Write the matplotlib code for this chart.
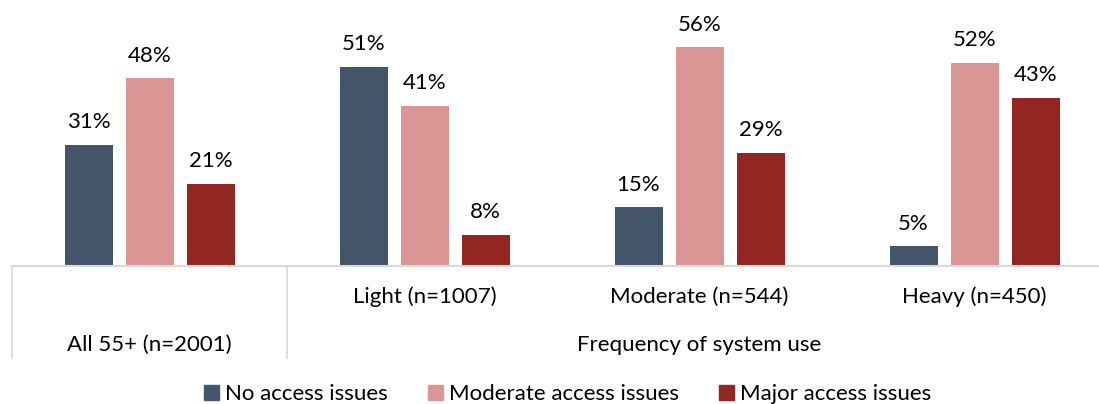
import numpy as np
import matplotlib.pyplot as plt
from matplotlib.patches import Patch

groups = ['All 55+ (n=2001)', 'Light (n=1007)', 'Moderate (n=544)', 'Heavy (n=450)']
series = ['No access issues', 'Moderate access issues', 'Major access issues']
no_access = [31, 51, 15, 5]
moderate_access = [48, 41, 56, 52]
major_access = [21, 8, 29, 43]
outer_label = 'Frequency of system use'

colors = ['#44546A', '#DA9694', '#922722']
plt.rcParams['font.family'] = ['Lato', 'DejaVu Sans']
fs = 16

W, H = 1099, 404
fig = plt.figure(figsize=(W / 100, H / 100), dpi=100)
# axes spans 4 groups of 275 px starting at x=12, baseline at y=266
ax = fig.add_axes([12 / W, (H - 266) / H, 1100 / W, 266 / H])
ax.set_xlim(-0.5, 3.5)
ax.set_ylim(0, 266 / 3.91)

x = np.arange(len(groups))
step = 61 / 275
bw = 48 / 275
for i, (vals, c) in enumerate(zip([no_access, moderate_access, major_access], colors)):
    pos = x + (i - 1) * step
    bars = ax.bar(pos, vals, width=bw, color=c, label=series[i], zorder=2)
    for b, v in zip(bars, vals):
        ax.annotate(f'{v}%', (b.get_x() + b.get_width() / 2, v),
                    xytext=(0, 9), textcoords='offset points',
                    ha='center', va='bottom', fontsize=fs, color='#000000')

for s in ax.spines.values():
    s.set_visible(False)
ax.set_xticks([])
ax.set_yticks([])
ax.axhline(0, color='#D9D9D9', lw=1.5, zorder=3, clip_on=False)

trans = ax.get_xaxis_transform()
low = -(358 - 266) / 266
for xv in [-0.5, 0.5]:
    ax.plot([xv, xv], [0, low], transform=trans, color='#D9D9D9', lw=1.2, clip_on=False)

y1 = -(297 - 266) / 266
y2 = -(345 - 266) / 266
for xi, g in zip(x[1:], groups[1:]):
    ax.text(xi, y1, g, transform=trans, ha='center', va='center', fontsize=fs)
ax.text(x[0], y2, groups[0], transform=trans, ha='center', va='center', fontsize=fs)
ax.text(2.0, y2, outer_label, transform=trans, ha='center', va='center', fontsize=fs)

handles = [Patch(color=c, label=s) for c, s in zip(colors, series)]
fig.legend(handles=handles, loc='center', bbox_to_anchor=(568 / W, (H - 394) / H),
           ncol=3, frameon=False, fontsize=fs, handlelength=0.65, handleheight=0.65,
           handletextpad=0.3, columnspacing=1.8)

fig.savefig('out.png', dpi=100)
